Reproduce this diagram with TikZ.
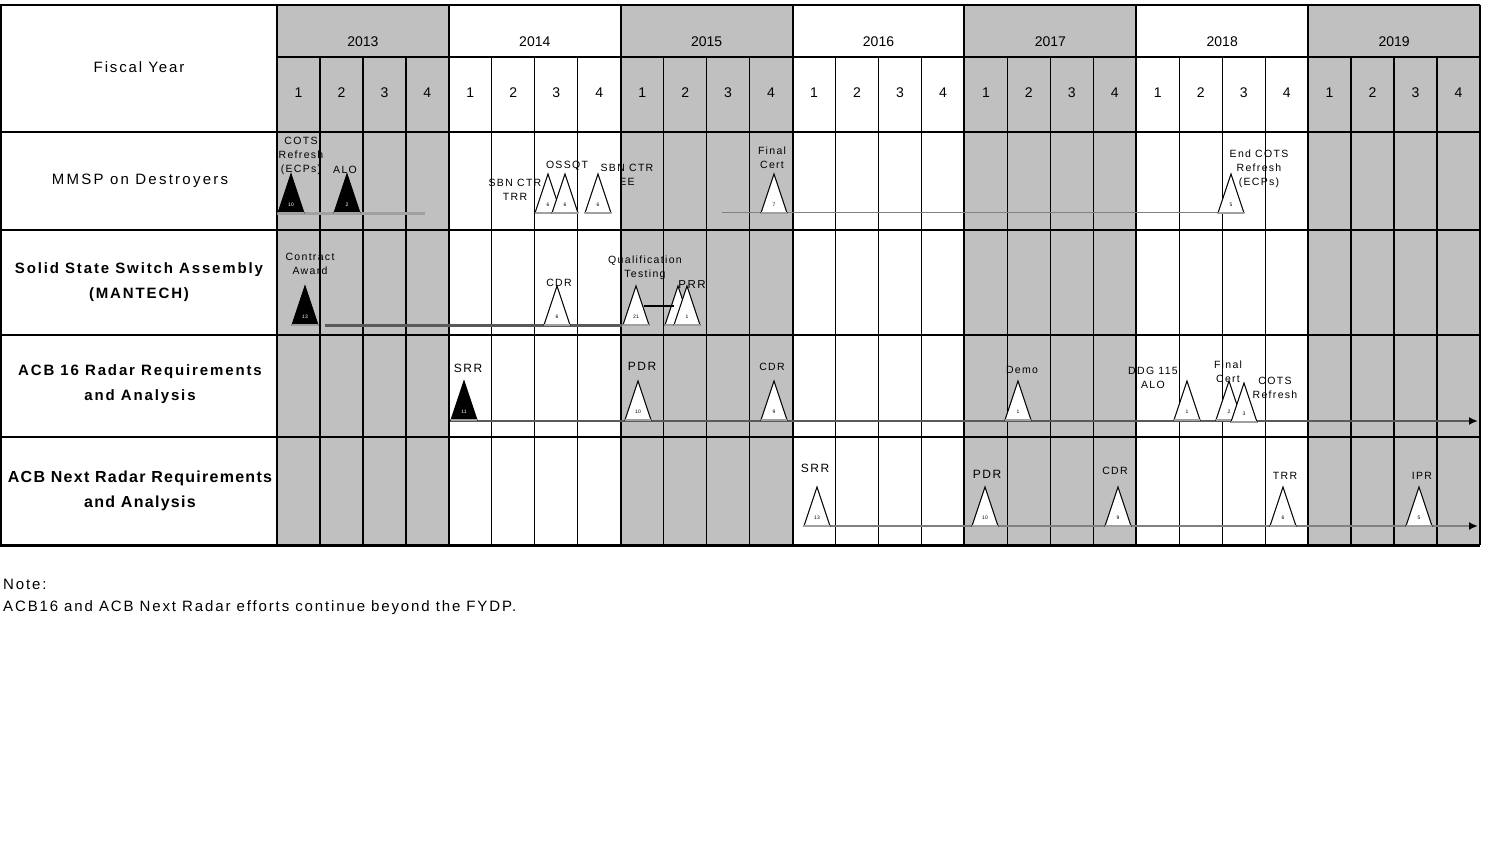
\documentclass[tikz,border=0pt]{standalone}
\usepackage{fontspec}
\setmainfont{Liberation Sans}
\newfontfamily\trackA[LetterSpace=15]{Liberation Sans}
\newfontfamily\trackB[LetterSpace=12.5]{Liberation Sans}
\newfontfamily\trackC[LetterSpace=8]{Liberation Sans}
\usetikzlibrary{arrows.meta}

\definecolor{fygray}{RGB}{192,192,192}
\definecolor{basegray}{RGB}{160,160,160}
\definecolor{bardark}{RGB}{90,90,90}

% milestone: name, x, base y, fill, number colour, number
\newcommand{\milestone}[6]{%
  \coordinate (#1) at (#2,#3);
  \draw[line width=1pt, fill=#4, line join=miter]
    ([xshift=-13pt]#1) -- ([yshift=39pt]#1) -- ([xshift=13pt]#1) -- cycle;
  \draw[basegray, line width=2pt] ([xshift=-13pt]#1) -- ([xshift=13pt]#1);
  \node[msnum, text=#5] (#1n) at ([yshift=8pt]#1) {#6};
}
\newcommand{\msdone}[4]{\milestone{#1}{#2}{#3}{black}{white}{#4}}
\newcommand{\msopen}[4]{\milestone{#1}{#2}{#3}{white}{black}{#4}}

\begin{document}
\begin{tikzpicture}[x=1pt, y=-1pt,
    thinline/.style={line width=1.3pt},
    yearline/.style={line width=2pt},
    rowline/.style={line width=2.4pt},
    hdr/.style={font=\fontsize{14}{16}\selectfont, inner sep=0},
    rowlbl/.style={align=center, inner sep=0},
    ms/.style={font=\trackB\fontsize{10.5}{14}\selectfont, align=center, inner sep=0},
    msbig/.style={font=\trackB\fontsize{12}{14}\selectfont, align=center, inner sep=0},
    msnum/.style={font=\fontsize{5}{6}\selectfont, inner sep=0},
    tip/.style={-{Latex[length=9pt,width=8pt,black]}},
    note/.style={font=\trackB\fontsize{15}{17}\selectfont, anchor=west, inner sep=0}]
  \useasboundingbox[fill=white] (0,0) rectangle (1497,842);

  % shaded fiscal years
  \foreach \i in {0,2,4,6}
    \fill[fygray] ({277+171.857*\i},5) rectangle ({277+171.857*(\i+1)},545);

  % header texts
  \node[hdr, font=\trackB\fontsize{15}{17}\selectfont] (fy) at (139,67) {Fiscal Year};
  \foreach \yr [count=\i from 0] in {2013,...,2019} {
    \node[hdr] (y\yr) at ({277+171.857*\i+85.93},42) {\yr};
    \foreach \q in {1,...,4}
      \node[hdr] (q\yr-\q) at ({277+171.857*\i+42.964*\q-21.48},93) {\q};
  }

  % grid
  \foreach \k in {1,...,27}
    \draw[thinline] ({277+42.964*\k},57) -- ({277+42.964*\k},545);
  \foreach \i in {0,...,7}
    \draw[yearline] ({277+171.857*\i},5) -- ({277+171.857*\i},545);
  \draw[thinline] (277,57) -- (1480,57);
  \draw[rowline] (0,5) -- (1480,5);
  \foreach \r in {132,230,335,437}
    \draw[rowline] (0,\r) -- (1480,\r);
  \draw[line width=3pt] (0,545) -- (1480,545);
  \draw[yearline] (1,5) -- (1,545);

  % row titles
  \node[rowlbl, font=\trackA\fontsize{15}{17}\selectfont] (r1) at (140,181) {MMSP on Destroyers};
  \node[rowlbl, font=\trackB\bfseries\fontsize{15}{25}\selectfont] (r2) at (139,282) {Solid State Switch Assembly\\(MANTECH)};
  \node[rowlbl, font=\trackB\bfseries\fontsize{15}{25}\selectfont] (r3) at (140,384) {ACB 16 Radar Requirements\\and Analysis};
  \node[rowlbl, font=\trackC\bfseries\fontsize{16}{25}\selectfont] (r4) at (140,491) {ACB Next Radar Requirements\\and Analysis};

  % timelines
  \coordinate (a1) at (277,214);  \coordinate (a2) at (425,214);
  \coordinate (b1) at (722,213);  \coordinate (b2) at (1230,213);
  \coordinate (c1) at (325,326);  \coordinate (c2) at (622,326);
  \coordinate (d1) at (450,421);  \coordinate (d2) at (1478,421);
  \coordinate (e1) at (818,526);  \coordinate (e2) at (1478,526);
  \draw[basegray, line width=3pt] (a1) -- (a2);
  \draw[gray, line width=1pt] (b1) -- (b2);
  \draw[bardark, line width=3pt] (c1) -- (c2);
  \draw[bardark, line width=2pt, tip] (d1) -- (d2);
  \draw[gray, line width=2pt, tip] (e1) -- (e2);

  % MMSP on Destroyers
  \msdone{cots}{291}{213}{10}
  \msdone{alo}{347}{213}{2}
  \msopen{trr}{548}{213}{6}
  \msopen{ossqt}{565}{213}{6}
  \msopen{sbnee}{598}{213}{6}
  \msopen{fcert}{774}{213}{7}
  \msopen{endcots}{1231}{213}{5}
  \node[ms] (cotsl) at (301,156) {COTS\\Refresh\\(ECPs)};
  \node[ms] (alol) at (345,170) {ALO};
  \node[ms] (trrl) at (515,190) {SBN CTR\\TRR};
  \node[ms] (ossqtl) at (567,166) {OSSQT};
  \node[ms] (sbneel) at (627,175) {SBN CTR\\EE};
  \node[ms] (fcertl) at (772,158) {Final\\Cert};
  \node[ms] (endcotsl) at (1259,169) {End COTS\\Refresh\\(ECPs)};

  % Solid State Switch Assembly
  \msdone{award}{305}{325}{13}
  \msopen{scdr}{557}{325}{6}
  \msopen{qual}{636}{325}{21}
  \msopen{prra}{678}{325}{7}
  \msopen{prrb}{687}{325}{1}
  \draw[line width=1.5pt] ([shift={(8pt,19pt)}]qual) -- ([shift={(-4pt,19pt)}]prra);
  \node[ms] (awardl) at (310,264) {Contract\\Award};
  \node[ms] (scdrl) at (559,283) {CDR};
  \node[ms] (quall) at (645,268) {Qualification\\Testing};
  \node[ms, font=\trackB\fontsize{11.5}{14}\selectfont] (prrl) at (692,285) {PRR};

  % ACB 16
  \msdone{srr}{464}{420}{11}
  \msopen{pdr}{638}{420}{10}
  \msopen{cdr}{774}{420}{9}
  \msopen{demo}{1018}{420}{1}
  \msopen{ddg}{1187}{420}{1}
  \msopen{fcertb}{1229}{420}{2}
  \msopen{refresh}{1244}{422}{3}
  \node[msbig] (srrl) at (468,368) {SRR};
  \node[msbig] (pdrl) at (642,366) {PDR};
  \node[ms] (cdrl) at (772,367) {CDR};
  \node[ms] (demol) at (1022,370) {Demo};
  \node[ms] (ddgl) at (1153,378) {DDG 115\\ALO};
  \node[ms] (fcertbl) at (1228,372) {Final\\Cert};
  \node[ms] (refreshl) at (1275,388) {COTS\\Refresh};

  % ACB Next
  \msopen{nsrr}{817}{526}{13}
  \msopen{npdr}{985}{526}{10}
  \msopen{ncdr}{1118}{526}{9}
  \msopen{ntrr}{1283}{526}{6}
  \msopen{nipr}{1419}{526}{5}
  \node[msbig] (nsrrl) at (815,468) {SRR};
  \node[msbig] (npdrl) at (987,474) {PDR};
  \node[ms] (ncdrl) at (1115,471) {CDR};
  \node[ms] (ntrrl) at (1285,476) {TRR};
  \node[ms] (niprl) at (1422,476) {IPR};

  % note
  \node[note] (note1) at (3,584) {Note:};
  \node[note] (note2) at (3,608) {ACB16 and ACB Next Radar efforts continue beyond the FYDP.};
\end{tikzpicture}
\end{document}
